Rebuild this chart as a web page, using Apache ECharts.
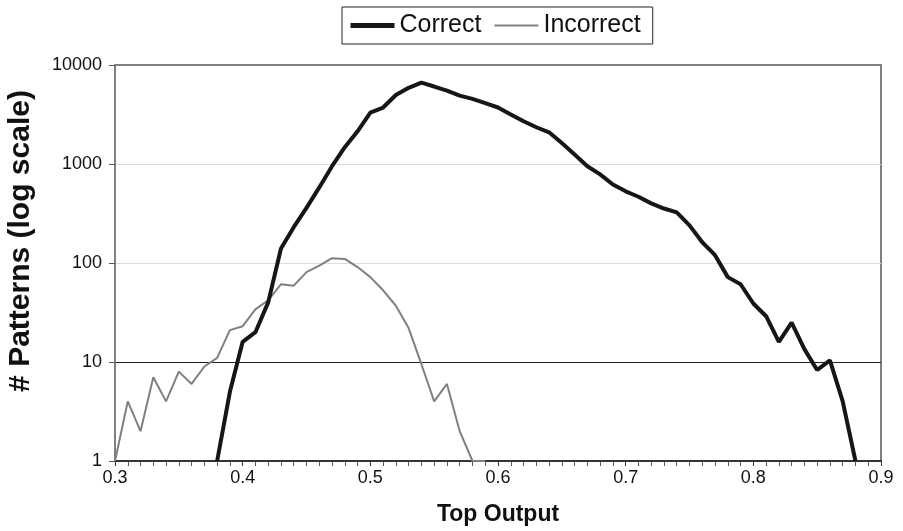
<!DOCTYPE html>
<html>
<head>
<meta charset="utf-8">
<script src="https://cdn.jsdelivr.net/npm/echarts@6/dist/echarts.min.js"></script>
<style>
  html, body { margin: 0; padding: 0; background: #fff; }
  #chart { width: 903px; height: 531px; }
</style>
</head>
<body>
<div id="chart"></div>
<script>
  // top output bins, step 0.01
  const correctX = [0.38, 0.39, 0.40, 0.41, 0.42, 0.43, 0.44, 0.45, 0.46, 0.47, 0.48, 0.49,
    0.50, 0.51, 0.52, 0.53, 0.54, 0.55, 0.56, 0.57, 0.58, 0.59, 0.60, 0.61, 0.62, 0.63,
    0.64, 0.65, 0.66, 0.67, 0.68, 0.69, 0.70, 0.71, 0.72, 0.73, 0.74, 0.75, 0.76, 0.77,
    0.78, 0.79, 0.80, 0.81, 0.82, 0.83, 0.84, 0.85, 0.86, 0.87, 0.88];
  const correctY = [1, 5, 16, 20, 40, 140, 230, 360, 580, 950, 1480, 2140,
    3310, 3720, 4980, 5880, 6640, 6060, 5500, 4900, 4550, 4120, 3720, 3170, 2700, 2350,
    2090, 1630, 1245, 950, 785, 620, 530, 467, 400, 355, 324, 240, 162, 120,
    72, 61, 39, 29, 16, 25, 13.5, 8.3, 10.4, 4, 1];

  const incorrectX = [0.30, 0.31, 0.32, 0.33, 0.34, 0.35, 0.36, 0.37, 0.38, 0.39, 0.40,
    0.41, 0.42, 0.43, 0.44, 0.45, 0.46, 0.47, 0.48, 0.49, 0.50, 0.51, 0.52, 0.53, 0.54,
    0.55, 0.56, 0.57, 0.58, 0.59];
  const incorrectY = [1, 4, 2, 7, 4, 8, 6, 9, 11, 21, 23,
    34, 42, 61, 59, 81, 94, 112, 110, 91, 72, 53, 37, 22, 9.5,
    4, 6, 2, 1, 1];

  const yTicks = [1, 10, 100, 1000, 10000];

  const pair = (xs, ys) => xs.map((x, i) => [x, ys[i]]);

  const chart = echarts.init(document.getElementById("chart"));
  const font = "Liberation Sans, Arial, sans-serif";

  chart.setOption({
    animation: false,
    backgroundColor: "#fff",
    textStyle: { fontFamily: font },
    legend: {
      top: 7,
      left: 342,
      padding: [6, 12, 6, 6],
      itemGap: 12,
      itemWidth: 44,
      itemHeight: 14,
      borderColor: "#222",
      borderWidth: 1,
      borderRadius: 0,
      textStyle: { fontFamily: font, fontSize: 25, color: "#111" },
      data: [
        { name: "Correct", itemStyle: { opacity: 0 }, lineStyle: { width: 5, color: "#161616" } },
        { name: "Incorrect", itemStyle: { opacity: 0 }, lineStyle: { width: 2, color: "#808080" } },
      ],
    },
    grid: {
      left: 115,
      right: 22,
      top: 65,
      bottom: 67,
      show: true,
      borderColor: "#808080",
      borderWidth: 2,
    },
    graphic: [
      {
        type: "text",
        x: 21,
        y: 241,
        rotation: Math.PI / 2,
        style: {
          text: "# Patterns (log scale)",
          font: "bold 30px Liberation Sans, Arial, sans-serif",
          fill: "#111",
          align: "center",
          verticalAlign: "middle",
        },
      },
    ],
    xAxis: {
      type: "value",
      min: 0.3,
      max: 0.9,
      interval: 0.1,
      name: "Top Output",
      nameLocation: "middle",
      nameGap: 42,
      nameTextStyle: { fontFamily: font, fontSize: 23, fontWeight: "bold", color: "#111" },
      axisLine: { onZero: false, lineStyle: { color: "#333", width: 2 } },
      axisTick: { length: 5, lineStyle: { color: "#333" } },
      minorTick: { show: true, splitNumber: 10, length: 5, lineStyle: { color: "#555" } },
      axisLabel: {
        color: "#111",
        fontSize: 18,
        margin: 8,
        formatter: (v) => v.toFixed(1),
      },
      splitLine: { show: false },
    },
    yAxis: {
      type: "log",
      logBase: 10,
      min: yTicks[0],
      max: yTicks[yTicks.length - 1],
      axisLine: { show: true, lineStyle: { color: "#808080", width: 2 } },
      axisTick: { show: true, length: 6, lineStyle: { color: "#555" } },
      axisLabel: { color: "#111", fontSize: 18, margin: 13, formatter: (v) => String(v) },
      splitLine: {
        show: true,
        lineStyle: { color: ["#808080", "#222", "#ddd", "#ddd", "#808080"], width: 1 },
      },
    },
    series: [
      {
        name: "Correct",
        type: "line",
        data: pair(correctX, correctY),
        symbol: "none",
        lineStyle: { color: "#161616", width: 4 },
        itemStyle: { color: "#161616" },
        z: 3,
      },
      {
        name: "Incorrect",
        type: "line",
        data: pair(incorrectX, incorrectY),
        symbol: "none",
        lineStyle: { color: "#808080", width: 2 },
        itemStyle: { color: "#808080" },
        z: 2,
      },
    ],
  });
</script>
</body>
</html>
